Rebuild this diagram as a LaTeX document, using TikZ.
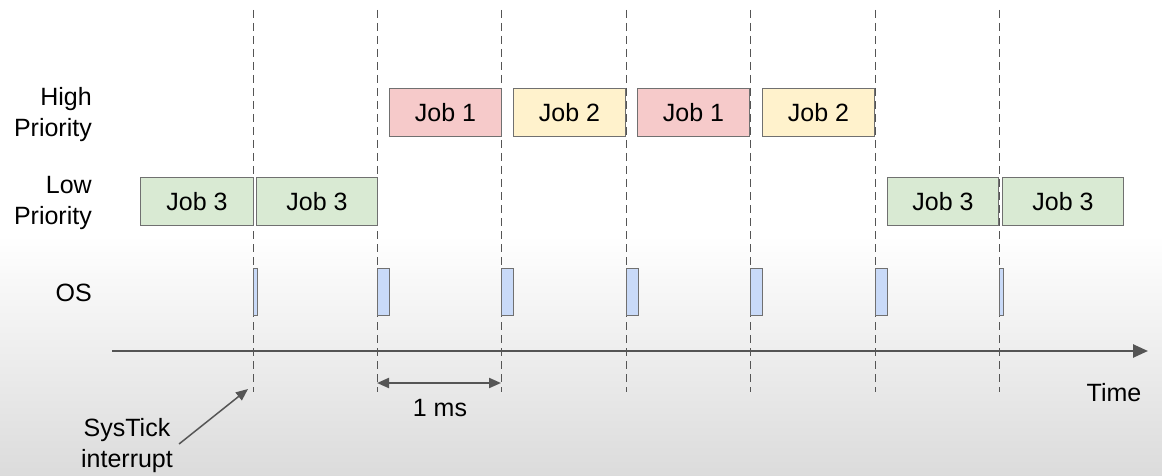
\documentclass[tikz,border=0pt]{standalone}
\usepackage{fontspec}
\setmainfont{Liberation Sans}
\usetikzlibrary{arrows.meta}
\definecolor{jobred}{HTML}{F6CACA}
\definecolor{jobyellow}{HTML}{FFF2CC}
\definecolor{jobgreen}{HTML}{D9EAD3}
\definecolor{osblue}{HTML}{C9DAF8}
\definecolor{edge}{HTML}{707070}
\definecolor{axis}{HTML}{555555}

\begin{document}
\begin{tikzpicture}[x=1pt,y=-1pt]
	\tikzstyle{every node}=[font=\fontsize{25}{31}\selectfont, text=black]
	\tikzstyle{job}=[draw=edge, line width=1pt, anchor=north west, inner sep=0pt,
		minimum height=48pt]
	\tikzstyle{osbox}=[draw=edge, fill=osblue, line width=1pt, anchor=north west,
		inner sep=0pt, minimum height=47pt]
	\tikzstyle{tick}=[axis, line width=1pt, dash pattern=on 8pt off 5pt]
	\tikzstyle{label}=[align=right, anchor=east, inner sep=0pt]
	\useasboundingbox (0,0) rectangle (1162,476);
	\fill[white] (0,0) rectangle (1162,235);
	\shade[top color=white, bottom color=black!14] (0,235) rectangle (1162,476);
	\foreach \x in {253,377,501,626,750,875,999}
		\draw[tick] (\x,10) -- (\x,392);
	\node[label] (high) at (92,115) {High\\Priority};
	\node[label] (low) at (92,203) {Low\\Priority};
	\node[label] (os) at (92,293) {OS};
	\node[job, fill=jobgreen, minimum width=113pt] (ja) at (140,177) {Job 3};
	\node[job, fill=jobgreen, minimum width=121pt] (jb) at (256,177) {Job 3};
	\node[job, fill=jobred, minimum width=112pt] (jc) at (389,88) {Job 1};
	\node[job, fill=jobyellow, minimum width=112pt] (jd) at (513,88) {Job 2};
	\node[job, fill=jobred, minimum width=112pt] (je) at (637,88) {Job 1};
	\node[job, fill=jobyellow, minimum width=112pt] (jf) at (762,88) {Job 2};
	\node[job, fill=jobgreen, minimum width=111pt] (jg) at (887,177) {Job 3};
	\node[job, fill=jobgreen, minimum width=121pt] (jh) at (1002,177) {Job 3};
	\node[osbox, minimum width=4pt] (osa) at (253,268) {};
	\node[osbox, minimum width=12pt] (osb) at (377,268) {};
	\node[osbox, minimum width=12pt] (osc) at (501,268) {};
	\node[osbox, minimum width=12pt] (osd) at (626,268) {};
	\node[osbox, minimum width=12pt] (ose) at (750,268) {};
	\node[osbox, minimum width=12pt] (osf) at (875,268) {};
	\node[osbox, minimum width=4pt] (osg) at (999,268) {};
	\coordinate (start) at (112,351);
	\coordinate (end) at (1148,351);
	\draw[axis, line width=2.5pt, -{Triangle[length=15pt,width=13pt]}] (start) -- (end);
	\node (time) at (1114,393) {Time};
	\coordinate (msa) at (377,383);
	\coordinate (msb) at (501,383);
	\draw[axis, line width=2pt, {Triangle[length=12pt,width=10pt]}-{Triangle[length=12pt,width=10pt]}] (msa) -- (msb);
	\node (ms) at (440,408) {1 ms};
	\node[align=center, inner sep=0pt] (systick) at (127,446) {SysTick\\interrupt};
	\coordinate (irq) at (248,389);
	\draw[axis, line width=1.5pt, -{Triangle[length=12pt,width=10pt]}] ([xshift=6pt,yshift=2pt]systick.east) -- (irq);
\end{tikzpicture}
\end{document}
